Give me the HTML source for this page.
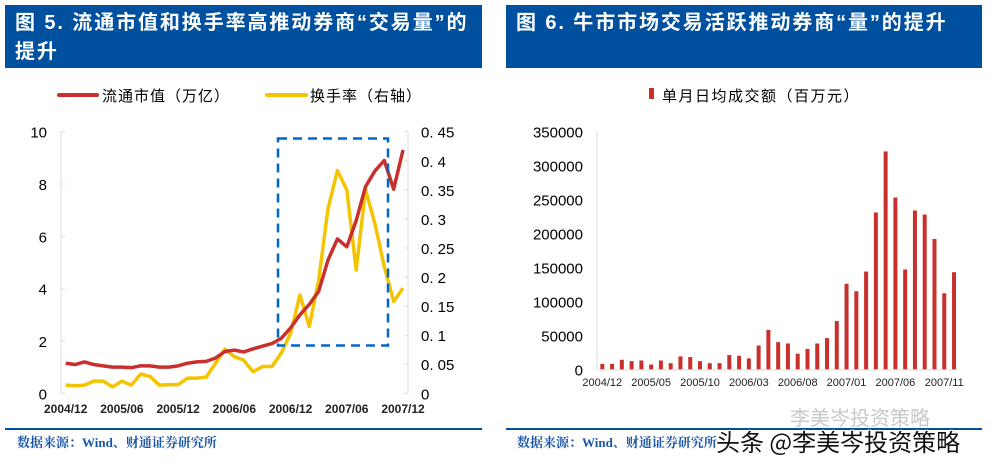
<!DOCTYPE html>
<html><head><meta charset="utf-8">
<style>
body{margin:0;background:#fff;width:991px;height:467px;overflow:hidden;position:relative;font-family:"Liberation Sans","Noto Sans CJK SC",sans-serif}
.hdr{position:absolute;top:5px;height:63px;background:#0050a0;color:#fff;font-weight:bold;font-size:20px;letter-spacing:1.9px;line-height:29px;padding:4px 0 0 10px;box-sizing:border-box;white-space:nowrap;overflow:hidden}
.src{position:absolute;top:432px;color:#1a56a8;font-weight:bold;font-size:13px;font-family:"Liberation Serif","Noto Serif CJK SC",serif}
.rule{position:absolute;top:428px;height:2px;background:#0050a0}
svg{position:absolute;left:0;top:0}
</style></head><body>
<div class="hdr" style="left:5px;width:477px">图 5. 流通市值和换手率高推动券商“交易量”的<br>提升</div>
<div class="hdr" style="left:506px;width:476px">图 6. 牛市市场交易活跃推动券商“量”的提升</div>
<div class="rule" style="left:5px;width:477px"></div>
<div class="rule" style="left:506px;width:476px"></div>
<div class="src" style="left:17px">数据来源：Wind、财通证券研究所</div>
<div class="src" style="left:517px">数据来源：Wind、财通证券研究所</div>
<svg id="svg" width="991" height="467" xmlns="http://www.w3.org/2000/svg"></svg>
<div style="position:absolute;left:790px;top:402px;font-size:20px;color:#c8c8c8;font-family:'Noto Sans CJK SC',sans-serif">李美岑投资策略</div>
<div style="position:absolute;left:716px;top:423px;font-size:24px;color:#111;font-family:'Noto Sans CJK SC',sans-serif;text-shadow:1px 1px 0 #fff,-1px -1px 0 #fff,1px -1px 0 #fff,-1px 1px 0 #fff">头条 @李美岑投资策略</div>
<script>
const lineDates=["2004/12","2005/06","2005/12","2006/06","2006/12","2007/06","2007/12"];
const leftTicks=[0,2,4,6,8,10];
const rightTicks=[0,0.05,0.1,0.15,0.2,0.25,0.3,0.35,0.4,0.45];
const marketCap=[1.15,1.1,1.2,1.1,1.05,1.0,1.0,0.98,1.05,1.05,1.0,1.0,1.05,1.15,1.2,1.22,1.35,1.6,1.65,1.58,1.7,1.8,1.9,2.1,2.5,3.0,3.4,3.9,5.1,5.9,5.6,6.6,7.9,8.5,8.9,7.8,9.3];
const turnover=[0.014,0.013,0.014,0.021,0.021,0.011,0.021,0.014,0.033,0.029,0.014,0.015,0.015,0.026,0.026,0.028,0.052,0.076,0.063,0.057,0.037,0.046,0.046,0.069,0.103,0.169,0.115,0.195,0.318,0.383,0.350,0.212,0.350,0.292,0.218,0.158,0.181];
const barLabels=["2004/12","2005/05","2005/10","2006/03","2006/08","2007/01","2007/06","2007/11"];
const barTicks=[0,50000,100000,150000,200000,250000,300000,350000];
const dailyVolume=[8000,8000,14000,12000,13000,7000,13000,9000,19000,18000,12000,9000,9000,21000,20000,16000,35000,58000,40000,38000,23000,30000,38000,46000,71000,126000,115000,144000,231000,321000,253000,147000,234000,228000,192000,112000,143000];

const svg=document.getElementById('svg');
const NS="http://www.w3.org/2000/svg";
function add(tag,attrs,txt){const e=document.createElementNS(NS,tag);for(const k in attrs)e.setAttribute(k,attrs[k]);if(txt!==undefined)e.textContent=txt;svg.appendChild(e);return e;}

const lx=i=>65.7+i*9.37;
const ly=v=>393.3-v*26.16;
const ry=v=>393.3-v/0.45*261.6;
let e;
e=add('line',{x1:61,y1:131,x2:61,y2:393,stroke:'#ddd'});


e=add('line',{x1:408,y1:131,x2:408,y2:393,stroke:'#ddd'});


leftTicks.forEach(t=>{
 e=add('text',{x:47,y:ly(t)+6,'font-size':15,'text-anchor':'end',fill:'#000'},t);
 
 
 add('line',{x1:61,x2:65,y1:ly(t),y2:ly(t),stroke:'#ddd'});
});
rightTicks.forEach(t=>{
 e=add('text',{x:421,y:ry(t)+6,'font-size':15,fill:'#000'},t===0?'0':String(t).replace('0.','0. '));
 
 
 add('line',{x1:404,x2:408,y1:ry(t),y2:ry(t),stroke:'#ddd'});
});
lineDates.forEach((d,i)=>{
 e=add('text',{x:lx(i*6),y:413,'font-size':12,'font-weight':'bold','text-anchor':'middle',fill:'#222'},d);
 
 
});
e=add('polyline',{points:turnover.map((v,i)=>lx(i)+','+ry(v)).join(' '),fill:'none',stroke:'#f5c400','stroke-width':3.5,'stroke-linejoin':'round'});


e=add('polyline',{points:marketCap.map((v,i)=>lx(i)+','+ly(v)).join(' '),fill:'none',stroke:'#c9302c','stroke-width':3.5,'stroke-linejoin':'round'});


e=add('rect',{x:278,y:138.5,width:110,height:207,fill:'none',stroke:'#0066cc','stroke-width':2.5,'stroke-dasharray':'9,6'});


e=add('line',{x1:59,x2:97,y1:95,y2:95,stroke:'#c9302c','stroke-width':4,'stroke-linecap':'round'});


e=add('text',{x:102,y:101,'font-size':15,fill:'#000','letter-spacing':'1'},'流通市值（万亿）');


e=add('line',{x1:267,x2:306,y1:95,y2:95,stroke:'#f5c400','stroke-width':4,'stroke-linecap':'round'});


e=add('text',{x:310,y:101,'font-size':15,fill:'#000','letter-spacing':'1'},'换手率（右轴）');



const bx=i=>602.3+i*9.77;
const by=v=>369.3-v/350000*237.6;
e=add('line',{x1:597,y1:131,x2:597,y2:370,stroke:'#ddd'});


e=add('line',{x1:597,y1:370,x2:958,y2:370,stroke:'#ddd'});


barTicks.forEach(t=>{
 e=add('text',{x:583,y:by(t)+6,'font-size':15,'text-anchor':'end',fill:'#000'},t);
 
 
});
barLabels.forEach((d,i)=>{
 e=add('text',{x:bx(i*5),y:386,'font-size':11,'text-anchor':'middle',fill:'#222'},d);
 
 
});
dailyVolume.forEach((v,i)=>{
 e=add('rect',{x:bx(i)-2,y:by(v),width:4,height:369.3-by(v),fill:'#c9302c'});
 
 
});
e=add('rect',{x:649,y:88,width:5,height:11,fill:'#c9302c'});


e=add('text',{x:662,y:101,'font-size':15,fill:'#000','letter-spacing':'1.5'},'单月日均成交额（百万元）');


</script>
</body></html>
